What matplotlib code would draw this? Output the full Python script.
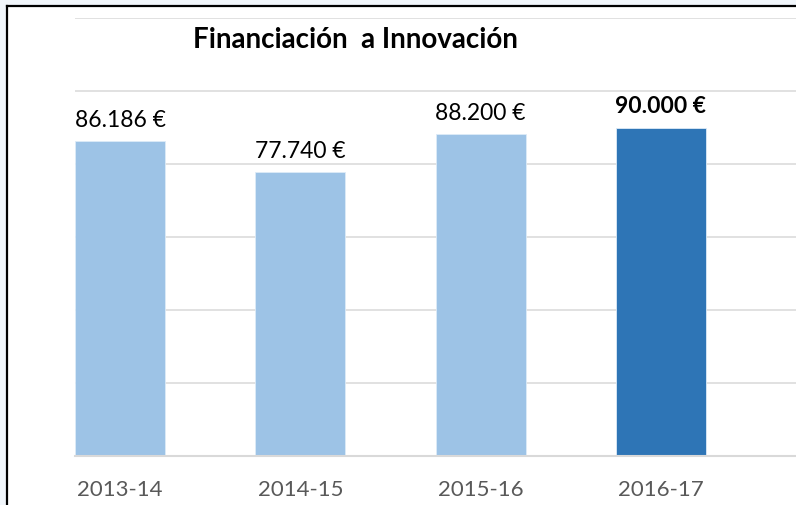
import matplotlib
matplotlib.use("Agg")
import matplotlib.pyplot as plt
from matplotlib.lines import Line2D

years = ["2013-14", "2014-15", "2015-16", "2016-17"]
amounts = [86186, 77740, 88200, 90000]
labels = ["86.186 €", "77.740 €", "88.200 €", "90.000 €"]
colors = ["#9DC3E6", "#9DC3E6", "#9DC3E6", "#2E75B6"]

plt.rcParams['font.family'] = ['Lato', 'DejaVu Sans']

fig = plt.figure(figsize=(7.96, 5.05), dpi=100)
fig.patch.set_facecolor("#F1F6FB")

# white chart area with black border on top/left
W, H = 796.0, 505.0
fig.patches.append(plt.Rectangle((8 / W, 0), 1, 1 - 7 / H, transform=fig.transFigure,
                                 facecolor="white", edgecolor="none", zorder=-5))
fig.lines.append(Line2D([7 / W, 7 / W], [0, 1 - 6 / H], transform=fig.transFigure,
                        color="black", lw=1.6, zorder=-4))
fig.lines.append(Line2D([7 / W, 1], [1 - 6 / H, 1 - 6 / H], transform=fig.transFigure,
                        color="black", lw=1.6, zorder=-4))

ax = fig.add_axes([75 / W, 1 - 456 / H, 1 - 75 / W, (456 - 18) / H])
ax.set_facecolor("none")
x = range(len(years))
bars = ax.bar(x, amounts, width=0.5, color=colors, edgecolor="#DDEBF7", linewidth=0.6, zorder=2)

ax.set_xlim(-0.25, 3.75)
ax.set_ylim(0, 120000)
ax.set_yticks(range(0, 120001, 20000))
ax.yaxis.grid(True, color="#D9D9D9", lw=1.1, zorder=0)
ax.set_axisbelow(True)
ax.tick_params(axis="y", left=False, labelleft=False)
ax.set_xticks(list(x))
ax.set_xticklabels(years, fontsize=16, color="#595959")
ax.tick_params(axis="x", length=0, pad=17.5)
for s in ["top", "right", "left"]:
    ax.spines[s].set_visible(False)
ax.spines["bottom"].set_color("#D9D9D9")
ax.spines["bottom"].set_linewidth(1.5)

for i, (b, lab) in enumerate(zip(bars, labels)):
    ax.annotate(lab, (b.get_x() + b.get_width() / 2, b.get_height()),
                xytext=(0, 7.5), textcoords="offset points", ha="center", va="bottom",
                fontsize=16.5, color="black",
                fontweight="bold" if i == 3 else "normal")

fig.text(355 / W, 1 - 40 / H, "Financiación  a Innovación", ha="center", va="center",
         fontsize=20, fontweight="bold", color="black")

fig.savefig("out.png", dpi=100, facecolor=fig.get_facecolor())
